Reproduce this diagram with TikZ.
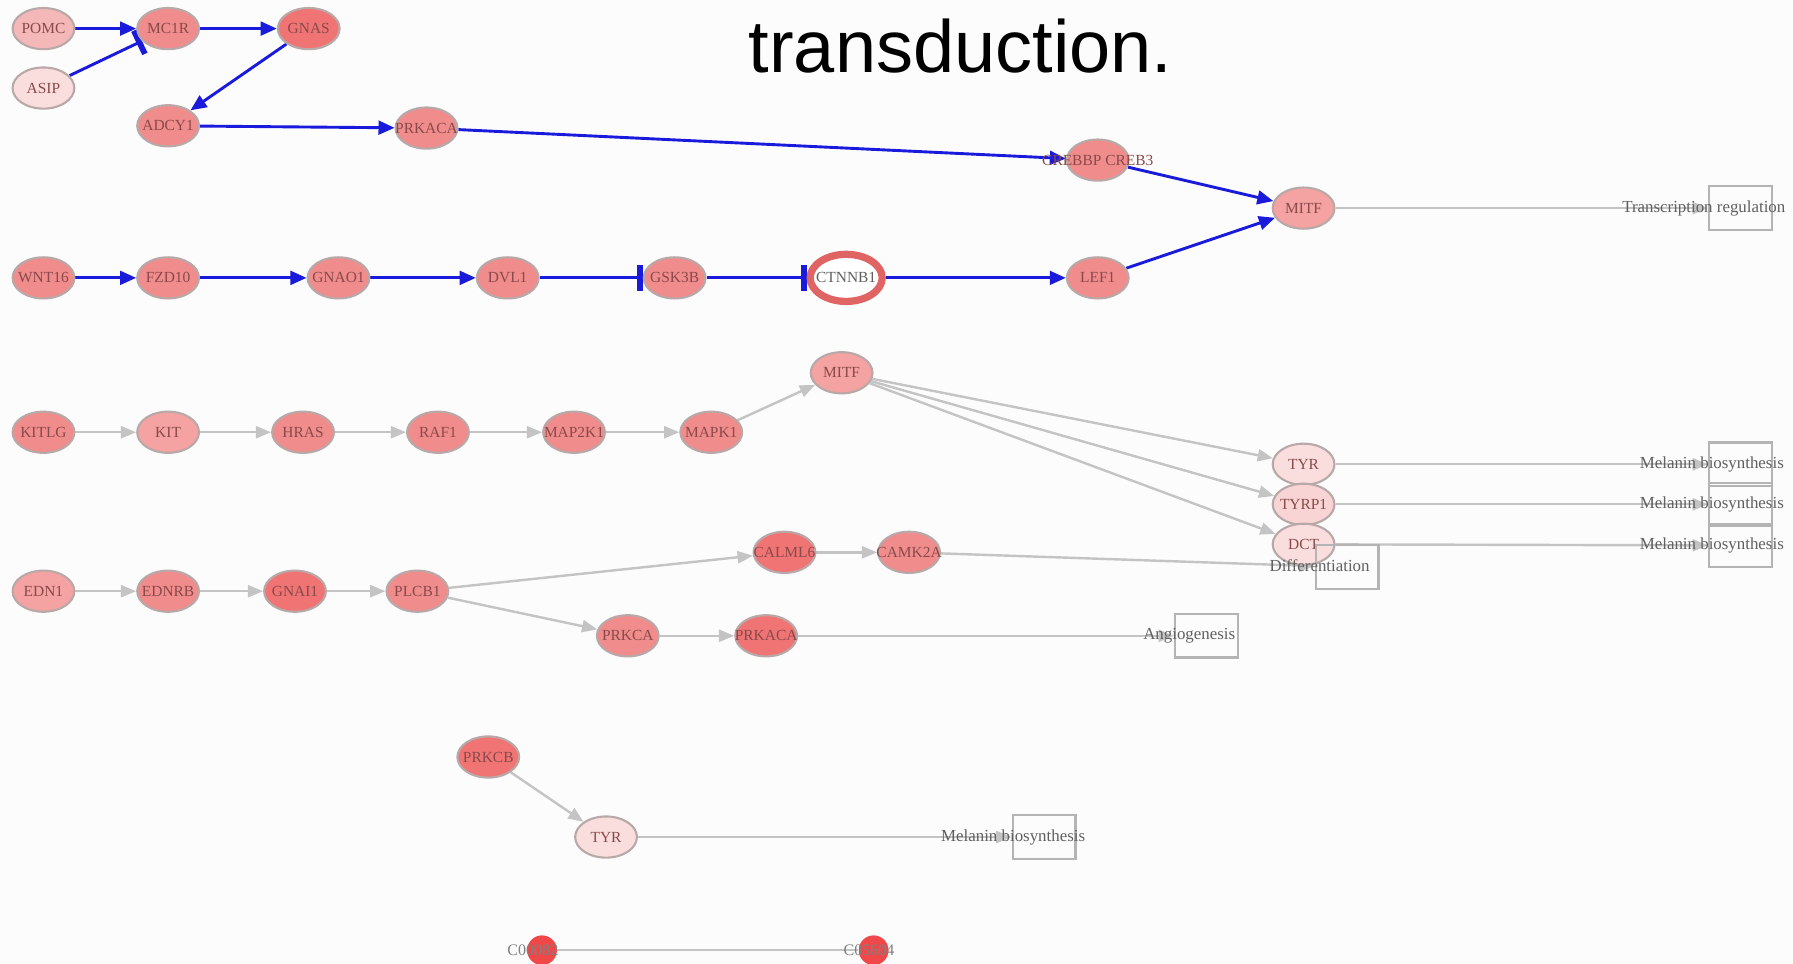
\documentclass[tikz,border=0pt]{standalone}
\usepackage{fontspec}
\setmainfont{Liberation Serif}
\newfontfamily\titlefont{Liberation Sans}
\usetikzlibrary{arrows.meta,shapes.geometric}
\definecolor{bluee}{HTML}{1A1ADC}
\definecolor{grayedge}{HTML}{C4C4C4}
\definecolor{boxborder}{HTML}{B4B4B4}
\definecolor{nodeborder}{HTML}{B8A8A8}
\definecolor{genetext}{HTML}{8A4A4A}
\definecolor{boxtext}{HTML}{606060}
\definecolor{cpale}{HTML}{FADEDE}
\definecolor{cpink}{HTML}{F8D4D4}
\definecolor{clight}{HTML}{F5B8B8}
\definecolor{cmid}{HTML}{F4A2A2}
\definecolor{cnorm}{HTML}{F08C8C}
\definecolor{cdark}{HTML}{F07474}
\definecolor{cred}{HTML}{F04848}
\definecolor{ringred}{HTML}{E06464}
\definecolor{bgc}{HTML}{FCFCFC}
\pgfdeclarelayer{back}
\pgfdeclarelayer{bg}
\pgfsetlayers{back,bg,main}
\begin{document}
\begin{tikzpicture}[x=0.025cm,y=-0.025cm,
  gene/.style={ellipse, draw=nodeborder, line width=1.3pt, minimum width=1.35cm, minimum height=0.9cm, inner sep=0pt},
  lbl/.style={font=\fontsize{9.6}{9.6}\selectfont, text=genetext, inner sep=0pt},
  boxlbl/.style={font=\fontsize{10.5}{10.5}\selectfont, text=boxtext, inner sep=0pt},
  procbox/.style={rectangle, draw=boxborder, line width=1.3pt, minimum width=1.375cm, minimum height=0.95cm, inner sep=0pt},
  cpd/.style={circle, fill=cred, draw=none, minimum size=0.65cm, inner sep=0pt},
  cpdlbl/.style={font=\fontsize{10}{10}\selectfont, text=boxtext!80!white, inner sep=0pt},
  be/.style={draw=bluee, line width=1.8pt, -{Triangle[length=10pt,width=8.5pt]}},
  bi/.style={draw=bluee, line width=1.8pt, -{Bar[width=16pt,line width=3.6pt]}},
  ge/.style={draw=grayedge, line width=1.5pt, -{Triangle[length=9.5pt,width=7.5pt]}}
]
\begin{pgfonlayer}{back}
\fill[bgc] (0,0) rectangle (1568,843);
\end{pgfonlayer}
\useasboundingbox (0,0) rectangle (1568,843);

\node[font=\titlefont\fontsize{46}{46}\selectfont, anchor=base, inner sep=0pt] (title) at (840,63) {transduction.};

% row 1
\node[gene, fill=clight, label={[lbl]center:POMC}] (pomc) at (38,25) {};
\node[gene, fill=cpale, label={[lbl]center:ASIP}] (asip) at (38,77) {};
\node[gene, fill=cnorm, label={[lbl]center:MC1R}] (mc1r) at (147,25) {};
\node[gene, fill=cdark, label={[lbl]center:GNAS}] (gnas) at (270,25) {};
\node[gene, fill=cnorm, label={[lbl]center:ADCY1}] (adcy1) at (147,110) {};
\node[gene, fill=cnorm, label={[lbl]center:PRKACA}] (prkaca) at (373,112) {};
\node[gene, fill=cnorm, label={[lbl]center:CREBBP CREB3}] (crebbp) at (960,140) {};
\node[gene, fill=cmid, label={[lbl]center:MITF}] (mitf) at (1140,182) {};
\node[procbox] (trbox) at (1522,182) {};
\node[boxlbl] (trlbl) at (1490,182) {Transcription regulation};

% row 2
\node[gene, fill=cnorm, label={[lbl]center:WNT16}] (wnt16) at (38,243) {};
\node[gene, fill=cnorm, label={[lbl]center:FZD10}] (fzd10) at (147,243) {};
\node[gene, fill=cnorm, label={[lbl]center:GNAO1}] (gnao1) at (296,243) {};
\node[gene, fill=cnorm, label={[lbl]center:DVL1}] (dvl1) at (444,243) {};
\node[gene, fill=cnorm, label={[lbl]center:GSK3B}] (gsk3b) at (590,243) {};
\node[ellipse, draw=ringred, fill=white, line width=4.5pt, minimum width=1.575cm, minimum height=1.03cm, inner sep=0pt, label={[lbl, text=boxtext]center:CTNNB1}] (ctnnb1) at (740,243) {};
\node[gene, fill=cnorm, label={[lbl]center:LEF1}] (lef1) at (960,243) {};

% row 3
\node[gene, fill=cnorm, label={[lbl]center:KITLG}] (kitlg) at (38,378) {};
\node[gene, fill=cmid, label={[lbl]center:KIT}] (kit) at (147,378) {};
\node[gene, fill=cnorm, label={[lbl]center:HRAS}] (hras) at (265,378) {};
\node[gene, fill=cnorm, label={[lbl]center:RAF1}] (raf1) at (383,378) {};
\node[gene, fill=cnorm, label={[lbl]center:MAP2K1}] (map2k1) at (502,378) {};
\node[gene, fill=cnorm, label={[lbl]center:MAPK1}] (mapk1) at (622,378) {};
\node[gene, fill=cmid, label={[lbl]center:MITF}] (mitf2) at (736,326) {};
\node[gene, fill=cpale, label={[lbl]center:TYR}] (tyr) at (1140,406) {};
\node[gene, fill=cpink, label={[lbl]center:TYRP1}] (tyrp1) at (1140,441) {};
\node[gene, fill=cpale, label={[lbl]center:DCT}] (dct) at (1140,476) {};
\node[procbox] (mb1) at (1522,406) {};
\node[procbox] (mb2) at (1522,441) {};
\node[procbox] (mb3) at (1522,477) {};
\node[boxlbl] (mbl1) at (1497,406) {Melanin biosynthesis};
\node[boxlbl] (mbl2) at (1497,441) {Melanin biosynthesis};
\node[boxlbl] (mbl3) at (1497,477) {Melanin biosynthesis};

% row 4
\node[gene, fill=cmid, label={[lbl]center:EDN1}] (edn1) at (38,517) {};
\node[gene, fill=cnorm, label={[lbl]center:EDNRB}] (ednrb) at (147,517) {};
\node[gene, fill=cdark, label={[lbl]center:GNAI1}] (gnai1) at (258,517) {};
\node[gene, fill=cnorm, label={[lbl]center:PLCB1}] (plcb1) at (365,517) {};
\node[gene, fill=cdark, label={[lbl]center:CALML6}] (calml6) at (686,483) {};
\node[gene, fill=cnorm, label={[lbl]center:CAMK2A}] (camk2a) at (795,483) {};
\node[gene, fill=cnorm, label={[lbl]center:PRKCA}] (prkca) at (549,556) {};
\node[gene, fill=cdark, label={[lbl]center:PRKACA}] (prkaca2) at (670,556) {};
\node[procbox] (diffbox) at (1178,496) {};
\node[boxlbl] (difflbl) at (1154,495) {Differentiation};
\node[procbox] (angbox) at (1055,556) {};
\node[boxlbl] (anglbl) at (1040,556) {Angiogenesis};

% row 5
\node[gene, fill=cdark, label={[lbl]center:PRKCB}] (prkcb) at (427,662) {};
\node[gene, fill=cpale, label={[lbl]center:TYR}] (tyr2) at (530,732) {};
\node[procbox] (mb4) at (913,732) {};
\node[boxlbl] (mbl4) at (886,732) {Melanin biosynthesis};

% row 6
\node[cpd, label={[cpdlbl, xshift=-0.2cm]center:C00082}] (cpd1) at (474,831) {};
\node[cpd, label={[cpdlbl, xshift=-0.1cm]center:C05604}] (cpd2) at (764,831) {};

\begin{pgfonlayer}{bg}
\draw[be] (pomc) -- (mc1r);
\draw[bi] (asip) -- (mc1r);
\draw[be] (mc1r) -- (gnas);
\draw[be] (gnas) -- (adcy1);
\draw[be] (adcy1) -- (prkaca);
\draw[be] (prkaca) -- (crebbp);
\draw[be] (crebbp) -- (mitf);
\draw[be] (lef1) -- (mitf);
\draw[ge] (mitf) -- (trbox);

\draw[be] (wnt16) -- (fzd10);
\draw[be] (fzd10) -- (gnao1);
\draw[be] (gnao1) -- (dvl1);
\draw[bi] (dvl1) -- (gsk3b);
\draw[bi] (gsk3b) -- (ctnnb1);
\draw[be] (ctnnb1) -- (lef1);

\draw[ge] (kitlg) -- (kit);
\draw[ge] (kit) -- (hras);
\draw[ge] (hras) -- (raf1);
\draw[ge] (raf1) -- (map2k1);
\draw[ge] (map2k1) -- (mapk1);
\draw[ge] (mapk1) -- (mitf2);
\draw[ge] (mitf2) -- (tyr);
\draw[ge] (mitf2) -- (tyrp1);
\draw[ge] (mitf2) -- (dct);
\draw[ge] (tyr) -- (mb1);
\draw[ge] (tyrp1) -- (mb2);
\draw[ge] (dct) -- (mb3);

\draw[ge] (edn1) -- (ednrb);
\draw[ge] (ednrb) -- (gnai1);
\draw[ge] (gnai1) -- (plcb1);
\draw[ge] (plcb1) -- (calml6);
\draw[ge] (plcb1) -- (prkca);
\draw[ge] (calml6) -- (camk2a);
\draw[ge] (camk2a) -- (diffbox);
\draw[ge] (prkca) -- (prkaca2);
\draw[ge] (prkaca2) -- (angbox);

\draw[ge] (prkcb) -- (tyr2);
\draw[ge] (tyr2) -- (mb4);

\draw[draw=grayedge, line width=1pt] (cpd1) -- (cpd2);
\end{pgfonlayer}
\end{tikzpicture}
\end{document}
